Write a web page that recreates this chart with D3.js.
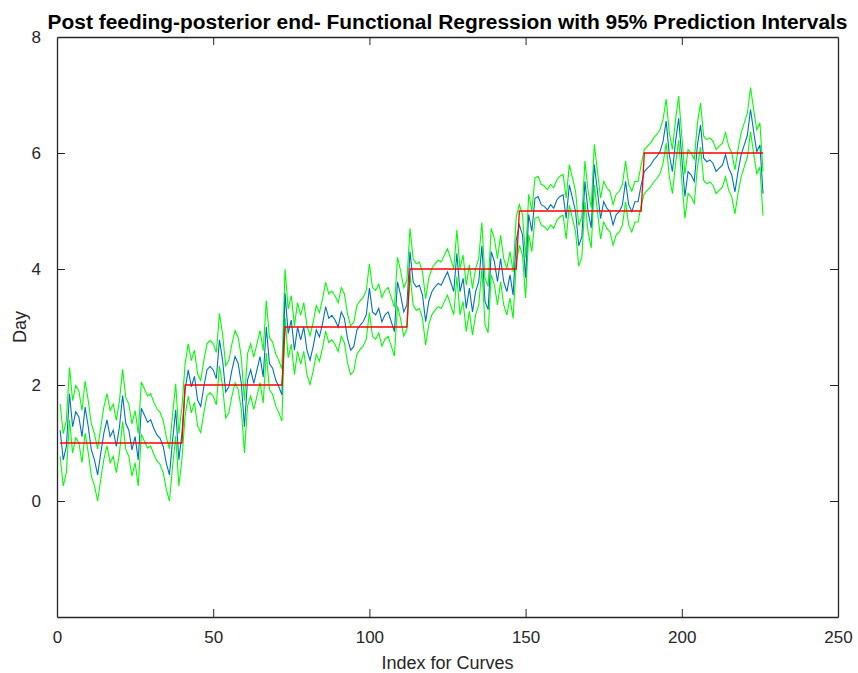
<!DOCTYPE html>
<html>
<head>
<meta charset="utf-8">
<script src="https://cdn.jsdelivr.net/npm/d3@7/dist/d3.min.js"></script>
<style>
  html, body { margin: 0; padding: 0; background: #ffffff; }
  svg { display: block; }
</style>
</head>
<body>
<svg id="chart" width="858" height="673"></svg>
<script>
// ---------------- DATA ----------------
const titleText = "Post feeding-posterior end- Functional Regression with 95% Prediction Intervals";
const xLabel = "Index for Curves";
const yLabel = "Day";
const xTicks = [0, 50, 100, 150, 200, 250];
const yTicks = [0, 2, 4, 6, 8];
const xDomain = [0, 250];
const yDomain = [-2, 8];

// true day of each curve: level and number of curves at that level
const trueLevels = [1, 2, 3, 4, 5, 6];
const groupSizes = [40, 32, 40, 35, 40, 39];

// predicted mean (blue), curves 1..226
const predicted = [
  1.22, 0.71, 0.94, 1.85, 1.28, 1.54, 1.45, 1.11, 1.62, 1.28,
  0.88, 0.71, 0.45, 0.82, 1.17, 1.40, 1.11, 1.22, 0.94, 1.28,
  1.82, 1.34, 1.22, 0.88, 1.11, 0.71, 1.60, 1.48, 1.36, 1.40,
  1.25, 1.14, 1.08, 0.94, 0.65, 0.45, 1.05, 1.57, 0.71, 1.17,
  1.91, 2.26, 1.97, 2.15, 1.74, 1.63, 1.97, 2.26, 2.32, 2.26,
  2.11, 2.78, 2.43, 1.88, 1.97, 2.26, 2.49, 2.37, 2.03, 1.28,
  2.09, 2.26, 2.03, 2.26, 2.49, 2.14, 3.00, 2.37, 2.29, 2.09,
  1.97, 1.83,
  3.58, 2.89, 3.12, 2.60, 3.00, 2.78, 3.00, 2.60, 2.43, 2.66,
  2.95, 2.83, 3.06, 3.35, 3.15, 3.20, 3.12, 3.00, 3.26, 3.15,
  2.80, 2.60, 2.66, 2.95, 3.03, 3.09, 3.21, 3.67, 3.26, 3.21,
  3.32, 3.09, 3.21, 3.26, 3.09, 2.92, 3.78, 3.55, 3.26, 3.38,
  4.30, 3.78, 3.69, 3.72, 3.55, 3.09, 3.44, 3.61, 3.69, 3.75,
  3.72, 3.84, 3.95, 3.78, 3.61, 4.27, 3.61, 3.84, 3.32, 3.67,
  3.26, 3.61, 3.78, 4.40, 3.44, 3.30, 4.30, 4.13, 3.78, 4.18,
  3.78, 3.61, 3.90, 3.55, 4.50,
  4.76, 4.59, 3.85, 4.94, 4.65, 5.22, 5.25, 5.11, 5.08, 5.02,
  5.11, 5.05, 5.19, 5.25, 5.28, 4.87, 5.45, 5.22, 4.99, 4.40,
  4.55, 5.51, 4.99, 4.71, 5.80, 5.34, 4.87, 5.16, 5.05, 4.99,
  4.76, 4.94, 4.99, 5.11, 5.51, 5.11, 4.99, 5.16, 5.16, 5.45,
  5.68, 5.74, 5.79, 5.88, 5.94, 6.02, 6.20, 6.55, 5.97, 5.68,
  6.20, 6.60, 5.91, 5.25, 5.68, 5.62, 5.51, 6.14, 6.48, 5.91,
  5.85, 5.88, 5.82, 5.68, 5.74, 5.79, 5.97, 5.74, 5.62, 5.33,
  5.68, 5.97, 6.14, 6.31, 6.75, 6.37, 6.02, 6.14, 5.30
];

// upper 95% prediction limit (green)
const upperPI = [
  1.67, 1.16, 1.39, 2.30, 1.73, 1.99, 1.90, 1.56, 2.07, 1.73,
  1.33, 1.16, 0.90, 1.27, 1.62, 1.85, 1.56, 1.67, 1.39, 1.73,
  2.27, 1.79, 1.67, 1.33, 1.56, 1.16, 2.05, 1.93, 1.81, 1.85,
  1.70, 1.59, 1.53, 1.39, 1.10, 0.90, 1.50, 2.02, 1.16, 1.62,
  2.36, 2.71, 2.42, 2.60, 2.19, 2.08, 2.42, 2.71, 2.77, 2.71,
  2.56, 3.23, 2.88, 2.33, 2.42, 2.71, 2.94, 2.82, 2.48, 1.73,
  2.54, 2.71, 2.48, 2.71, 2.94, 2.59, 3.45, 2.82, 2.74, 2.54,
  2.42, 2.28,
  4.00, 3.31, 3.54, 3.02, 3.42, 3.20, 3.42, 3.02, 2.85, 3.08,
  3.37, 3.25, 3.48, 3.77, 3.57, 3.62, 3.54, 3.42, 3.68, 3.57,
  3.22, 3.02, 3.08, 3.37, 3.45, 3.51, 3.63, 4.09, 3.68, 3.63,
  3.74, 3.51, 3.63, 3.68, 3.51, 3.34, 4.20, 3.97, 3.68, 3.80,
  4.70, 4.18, 4.09, 4.12, 3.95, 3.49, 3.84, 4.01, 4.09, 4.15,
  4.12, 4.24, 4.35, 4.18, 4.01, 4.67, 4.01, 4.24, 3.72, 4.07,
  3.66, 4.01, 4.18, 4.80, 3.84, 3.70, 4.70, 4.53, 4.18, 4.58,
  4.18, 4.01, 4.30, 3.95, 4.90,
  5.11, 4.94, 4.20, 5.29, 5.00, 5.57, 5.60, 5.46, 5.43, 5.37,
  5.46, 5.40, 5.54, 5.60, 5.63, 5.22, 5.80, 5.57, 5.34, 4.75,
  4.90, 5.86, 5.34, 5.06, 6.15, 5.69, 5.22, 5.51, 5.40, 5.34,
  5.11, 5.29, 5.34, 5.46, 5.86, 5.46, 5.34, 5.51, 5.51, 5.80,
  6.06, 6.12, 6.17, 6.26, 6.32, 6.40, 6.58, 6.93, 6.35, 6.06,
  6.58, 6.98, 6.29, 5.63, 6.06, 6.00, 5.89, 6.52, 6.86, 6.29,
  6.23, 6.26, 6.20, 6.06, 6.12, 6.17, 6.35, 6.12, 6.00, 5.71,
  6.06, 6.35, 6.52, 6.69, 7.13, 6.75, 6.40, 6.52, 5.68
];

// lower 95% prediction limit (green)
const lowerPI = [
  0.77, 0.26, 0.49, 1.40, 0.83, 1.09, 1.00, 0.66, 1.17, 0.83,
  0.43, 0.26, 0.00, 0.37, 0.72, 0.95, 0.66, 0.77, 0.49, 0.83,
  1.37, 0.89, 0.77, 0.43, 0.66, 0.26, 1.15, 1.03, 0.91, 0.95,
  0.80, 0.69, 0.63, 0.49, 0.20, 0.00, 0.60, 1.12, 0.26, 0.72,
  1.46, 1.81, 1.52, 1.70, 1.29, 1.18, 1.52, 1.81, 1.87, 1.81,
  1.66, 2.33, 1.98, 1.43, 1.52, 1.81, 2.04, 1.92, 1.58, 0.83,
  1.64, 1.81, 1.58, 1.81, 2.04, 1.69, 2.55, 1.92, 1.84, 1.64,
  1.52, 1.38,
  3.16, 2.47, 2.70, 2.18, 2.58, 2.36, 2.58, 2.18, 2.01, 2.24,
  2.53, 2.41, 2.64, 2.93, 2.73, 2.78, 2.70, 2.58, 2.84, 2.73,
  2.38, 2.18, 2.24, 2.53, 2.61, 2.67, 2.79, 3.25, 2.84, 2.79,
  2.90, 2.67, 2.79, 2.84, 2.67, 2.50, 3.36, 3.13, 2.84, 2.96,
  3.90, 3.38, 3.29, 3.32, 3.15, 2.69, 3.04, 3.21, 3.29, 3.35,
  3.32, 3.44, 3.55, 3.38, 3.21, 3.87, 3.21, 3.44, 2.92, 3.27,
  2.86, 3.21, 3.38, 4.00, 3.04, 2.90, 3.90, 3.73, 3.38, 3.78,
  3.38, 3.21, 3.50, 3.15, 4.10,
  4.41, 4.24, 3.50, 4.59, 4.30, 4.87, 4.90, 4.76, 4.73, 4.67,
  4.76, 4.70, 4.84, 4.90, 4.93, 4.52, 5.10, 4.87, 4.64, 4.05,
  4.20, 5.16, 4.64, 4.36, 5.45, 4.99, 4.52, 4.81, 4.70, 4.64,
  4.41, 4.59, 4.64, 4.76, 5.16, 4.76, 4.64, 4.81, 4.81, 5.10,
  5.30, 5.36, 5.41, 5.50, 5.56, 5.64, 5.82, 6.17, 5.59, 5.30,
  5.82, 6.22, 5.53, 4.87, 5.30, 5.24, 5.13, 5.76, 6.10, 5.53,
  5.47, 5.50, 5.44, 5.30, 5.36, 5.41, 5.59, 5.36, 5.24, 4.95,
  5.30, 5.59, 5.76, 5.93, 6.37, 5.99, 5.64, 5.76, 4.92
];

// ---------------- CHART ----------------
const trueDay = [];
trueLevels.forEach((lv, k) => { for (let j = 0; j < groupSizes[k]; j++) trueDay.push(lv); });

const W = 858, H = 673;
const plot = { left: 57, right: 838, top: 37, bottom: 617 };
const svg = d3.select("#chart");
svg.append("rect").attr("width", W).attr("height", H).attr("fill", "#ffffff");

const x = d3.scaleLinear().domain(xDomain).range([plot.left, plot.right]);
const y = d3.scaleLinear().domain(yDomain).range([plot.bottom, plot.top]);

const axisColor = "#262626";
const labelColor = "#262626";
const tickFont = "Liberation Sans, Arial, sans-serif";

// axes (MATLAB-style box with inward ticks)
const tickLen = 8;
const gB = svg.append("g").attr("transform", `translate(0,${plot.bottom})`)
  .call(d3.axisBottom(x).tickValues(xTicks).tickSizeInner(-tickLen).tickSizeOuter(0).tickPadding(14));
const gT = svg.append("g").attr("transform", `translate(0,${plot.top})`)
  .call(d3.axisTop(x).tickValues(xTicks).tickSizeInner(-tickLen).tickSizeOuter(0).tickFormat(""));
const gL = svg.append("g").attr("transform", `translate(${plot.left},0)`)
  .call(d3.axisLeft(y).tickValues(yTicks).tickSizeInner(-tickLen).tickSizeOuter(0).tickPadding(16));
const gR = svg.append("g").attr("transform", `translate(${plot.right},0)`)
  .call(d3.axisRight(y).tickValues(yTicks).tickSizeInner(-tickLen).tickSizeOuter(0).tickFormat(""));

[gB, gT, gL, gR].forEach(g => {
  g.selectAll("path.domain").attr("stroke", axisColor).attr("stroke-width", 1.3);
  g.selectAll(".tick line").attr("stroke", axisColor).attr("stroke-width", 1);
  g.selectAll(".tick text").attr("fill", labelColor)
    .style("font-family", tickFont).style("font-size", "17px");
});
// hide edge ticks that coincide with box
gB.selectAll(".tick").filter(d => d === 0 || d === 250).select("line").remove();
gT.selectAll(".tick").filter(d => d === 0 || d === 250).select("line").remove();
gL.selectAll(".tick").filter(d => d === 8).select("line").remove();
gR.selectAll(".tick").filter(d => d === 8).select("line").remove();

// clip
svg.append("clipPath").attr("id", "clip").append("rect")
  .attr("x", plot.left).attr("y", plot.top)
  .attr("width", plot.right - plot.left).attr("height", plot.bottom - plot.top);

const idx = (d, i) => x(i + 1);
const line = d3.line().x(idx).y(d => y(d));
const lines = svg.append("g").attr("clip-path", "url(#clip)");

lines.append("path").datum(upperPI).attr("d", line)
  .attr("fill", "none").attr("stroke", "#00ff00").attr("stroke-width", 1.1);
lines.append("path").datum(lowerPI).attr("d", line)
  .attr("fill", "none").attr("stroke", "#00ff00").attr("stroke-width", 1.1);
lines.append("path").datum(predicted).attr("d", line)
  .attr("fill", "none").attr("stroke", "#0072bd").attr("stroke-width", 1.1);
lines.append("path").datum(trueDay).attr("d", line)
  .attr("fill", "none").attr("stroke", "#ff0000").attr("stroke-width", 1.3);

// title
svg.append("text").attr("x", (plot.left + plot.right) / 2).attr("y", 29)
  .attr("text-anchor", "middle")
  .attr("textLength", 800).attr("lengthAdjust", "spacingAndGlyphs")
  .style("font-family", "Liberation Sans, Arial, sans-serif")
  .style("font-weight", "bold").style("font-size", "20px").attr("fill", "#000")
  .text(titleText);

// axis labels
svg.append("text").attr("x", (plot.left + plot.right) / 2).attr("y", 669)
  .attr("text-anchor", "middle").attr("fill", labelColor)
  .style("font-family", tickFont).style("font-size", "18px")
  .text(xLabel);
svg.append("text").attr("transform", `translate(26,${(plot.top + plot.bottom) / 2}) rotate(-90)`)
  .attr("text-anchor", "middle").attr("fill", labelColor)
  .style("font-family", tickFont).style("font-size", "18px")
  .text(yLabel);
</script>
</body>
</html>
